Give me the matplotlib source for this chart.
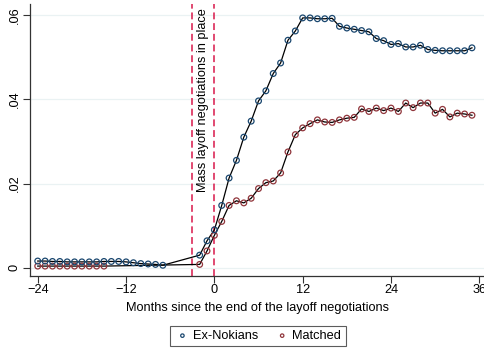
import matplotlib.pyplot as plt
from matplotlib.ticker import FuncFormatter

plt.rcParams["font.family"] = ["Liberation Sans", "DejaVu Sans"]

# Monthly exit rates, months relative to the end of the layoff negotiations
nokia_months = list(range(-24, -6)) + list(range(-2, 36))
nokia_rate = [
    0.0016, 0.0016, 0.0015, 0.0015, 0.0014, 0.0014, 0.0014, 0.0014, 0.0014,
    0.0015, 0.0015, 0.0015, 0.0014, 0.0012, 0.0010, 0.0009, 0.0008, 0.0006,
    0.0030, 0.0064, 0.0090, 0.0148, 0.0213, 0.0255, 0.0310, 0.0348, 0.0396,
    0.0420, 0.0461, 0.0486, 0.0540, 0.0562, 0.0593, 0.0593, 0.0591, 0.0591,
    0.0592, 0.0573, 0.0569, 0.0566, 0.0563, 0.0560, 0.0544, 0.0539, 0.0530,
    0.0532, 0.0524, 0.0524, 0.0528, 0.0518, 0.0516, 0.0515, 0.0515, 0.0515,
    0.0515, 0.0522,
]

matched_months = list(range(-24, -14)) + list(range(-2, 36))
matched_rate = [
    0.0004, 0.0004, 0.0004, 0.0004, 0.0004, 0.0004, 0.0004, 0.0004, 0.0004,
    0.0004,
    0.0008, 0.0040, 0.0077, 0.0110, 0.0148, 0.0159, 0.0154, 0.0165, 0.0188,
    0.0202, 0.0206, 0.0225, 0.0275, 0.0316, 0.0332, 0.0342, 0.0351, 0.0346,
    0.0345, 0.0351, 0.0355, 0.0357, 0.0377, 0.0371, 0.0379, 0.0373, 0.0379,
    0.0371, 0.0391, 0.0380, 0.0391, 0.0391, 0.0367, 0.0376, 0.0358, 0.0367,
    0.0365, 0.0362,
]

negotiation_window = [-3, 0]
x_ticks = [-24, -12, 0, 12, 24, 36]
y_ticks = [0, 0.02, 0.04, 0.06]

navy = "#1a476f"
maroon = "#90353b"
vline_red = "#d8174a"
fs = 9.2

fig = plt.figure(figsize=(4.85, 3.52), dpi=100)
ax = fig.add_axes([30 / 485, 76 / 352, 455 / 485, 272 / 352])

for yt in y_ticks:
    ax.axhline(yt, color="#eaf2f3", lw=0.9, zorder=0)

for xv in negotiation_window:
    ax.axvline(xv, color=vline_red, lw=1.1, ls=(0, (4.5, 2.5)), zorder=1)

ax.text(-1.5, 0.0616, "Mass layoff negotiations in place", rotation=90,
        ha="center", va="top", fontsize=fs, zorder=2)

ax.plot(nokia_months, nokia_rate, color="black", lw=0.9, zorder=3)
ax.plot(matched_months, matched_rate, color="black", lw=0.9, zorder=3)
ax.scatter(matched_months, matched_rate, s=17, facecolors="none",
           edgecolors=maroon, linewidths=0.9, zorder=4, label="Matched")
ax.scatter(nokia_months, nokia_rate, s=17, facecolors="none",
           edgecolors=navy, linewidths=0.9, zorder=5, label="Ex-Nokians")

ax.set_xlim(-25.05, 36.77)
ax.set_ylim(-0.00195, 0.0626)
ax.set_xticks(x_ticks)
ax.set_yticks(y_ticks)
ax.yaxis.set_major_formatter(
    FuncFormatter(lambda v, _: "0" if v == 0 else f"{v:.2f}".lstrip("0")))
for lbl in ax.get_yticklabels():
    lbl.set_rotation(90)
    lbl.set_va("center")
ax.tick_params(axis="both", length=5, width=0.8, color="#333333",
               labelsize=fs, pad=1)
ax.tick_params(axis="y", pad=1.5)

for side in ("top", "right"):
    ax.spines[side].set_visible(False)
for side in ("left", "bottom"):
    ax.spines[side].set_color("#333333")
    ax.spines[side].set_linewidth(0.9)

ax.set_xlabel("Months since the end of the layoff negotiations",
              fontsize=fs, labelpad=4)

handles, labels = ax.get_legend_handles_labels()
order = [labels.index("Ex-Nokians"), labels.index("Matched")]
leg = fig.legend([handles[i] for i in order], [labels[i] for i in order],
                 loc="center", bbox_to_anchor=(258 / 485, 1 - 336 / 352),
                 ncol=2, fontsize=fs, frameon=True, fancybox=False,
                 markerscale=0.6, handletextpad=0.2, columnspacing=1.3,
                 borderpad=0.35, handlelength=1.2)
leg.get_frame().set_edgecolor("#333333")
leg.get_frame().set_linewidth(0.8)

fig.savefig("out.png", dpi=100)
